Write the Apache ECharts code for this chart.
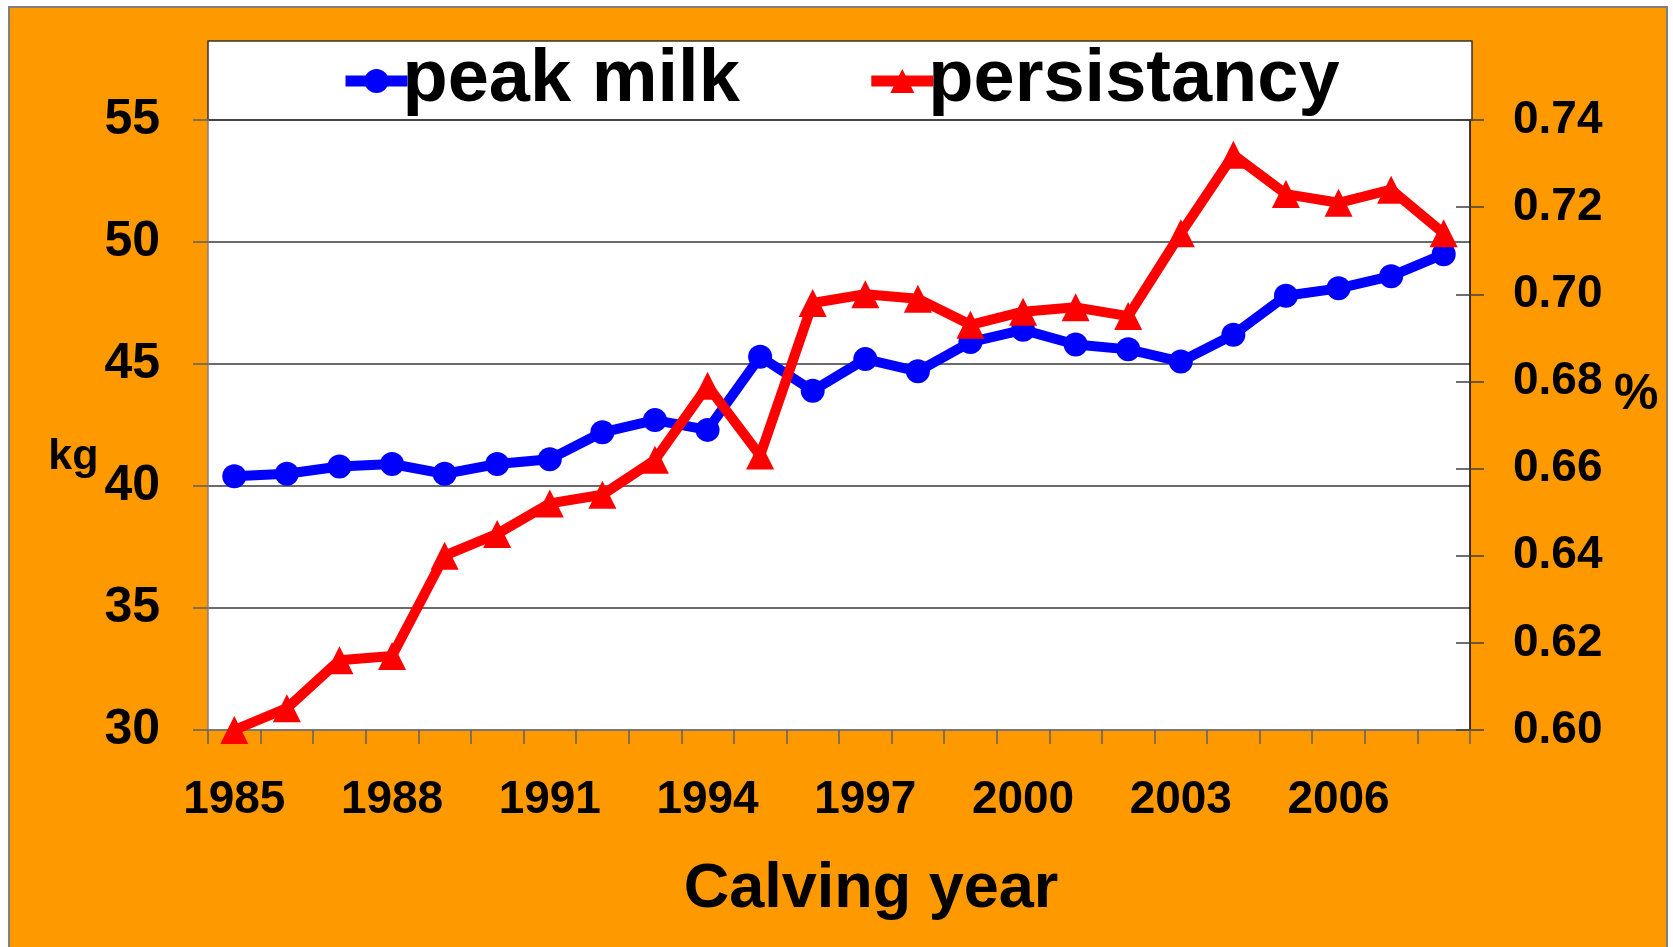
<!DOCTYPE html>
<html>
<head>
<meta charset="utf-8">
<script src="https://cdn.jsdelivr.net/npm/echarts@6/dist/echarts.min.js"></script>
<style>
  html, body { margin: 0; padding: 0; background: #fff; }
  #bg { position: absolute; left: 8px; top: 6px; width: 1660px; height: 945px;
        background: #ff9900; border: 2px solid #7f7f7f; border-bottom: none; box-sizing: border-box; }
  #chart { position: absolute; left: 0; top: 0; width: 1673px; height: 947px; }
</style>
</head>
<body>
<div id="bg"></div>
<div id="chart"></div>
<script>
  // calving years
  var years = ['1985', '1986', '1987', '1988', '1989', '1990', '1991', '1992', '1993', '1994', '1995', '1996',
               '1997', '1998', '1999', '2000', '2001', '2002', '2003', '2004', '2005', '2006', '2007', '2008'];
  // peak milk, kg (left axis)
  var peakMilk = [40.4, 40.5, 40.8, 40.9, 40.5, 40.9, 41.1, 42.2, 42.7, 42.3, 45.3, 43.9,
                  45.2, 44.7, 45.9, 46.4, 45.8, 45.6, 45.1, 46.2, 47.8, 48.1, 48.6, 49.5];
  // persistancy (right axis)
  var persistancy = [0.600, 0.605, 0.616, 0.617, 0.640, 0.645, 0.652, 0.654, 0.662, 0.679, 0.663, 0.698,
                     0.700, 0.699, 0.693, 0.696, 0.697, 0.695, 0.714, 0.732, 0.723, 0.721, 0.724, 0.714];

  var font = "'Liberation Sans', Arial, sans-serif";

  var chart = echarts.init(document.getElementById('chart'));
  chart.setOption({
    backgroundColor: 'transparent',
    animation: false,
    textStyle: { fontFamily: font },
    graphic: [{
      type: 'rect',
      z: 0,
      shape: { x: 208, y: 41, width: 1264, height: 79 },
      style: { fill: '#ffffff', stroke: '#333333', lineWidth: 1.5 }
    }],
    legend: {
      left: 340,
      top: 41,
      padding: 0,
      itemGap: 126,
      itemWidth: 62,
      itemHeight: 30,
      lineStyle: { width: 11 },
      textStyle: { fontSize: 74, fontWeight: 'bold', color: '#000', fontFamily: font, lineHeight: 80, padding: [0, 0, 0, -10] },
      data: ['peak milk', 'persistancy']
    },
    grid: {
      left: 208, right: 203, top: 120, bottom: 217,
      show: true, backgroundColor: '#ffffff', borderWidth: 0
    },
    xAxis: {
      type: 'category',
      data: years,
      boundaryGap: true,
      name: 'Calving year',
      nameLocation: 'middle',
      nameGap: 128,
      nameTextStyle: { fontSize: 63, fontWeight: 'bold', color: '#000', fontFamily: font, padding: [0, 0, 0, 64] },
      axisLine: { lineStyle: { color: '#808080', width: 1.5 } },
      axisTick: { show: true, interval: 0, length: 14, lineStyle: { color: '#606060', width: 1.5 } },
      axisLabel: { interval: 2, margin: 47, fontSize: 46, fontWeight: 'bold', color: '#000', fontFamily: font },
      splitLine: { show: false }
    },
    yAxis: [{
      type: 'value',
      position: 'left',
      min: 30, max: 55, interval: 5,
      name: 'kg',
      nameLocation: 'middle',
      nameRotate: 0,
      nameGap: 101,
      nameTextStyle: { fontSize: 43, fontWeight: 'bold', color: '#000', fontFamily: font,
                       verticalAlign: 'top', lineHeight: 64 },
      axisLine: { show: true, lineStyle: { color: '#808080', width: 1.5 } },
      axisTick: { show: true, length: 15, lineStyle: { color: '#606060', width: 1.5 } },
      axisLabel: { margin: 48, fontSize: 50, fontWeight: 'bold', color: '#000', fontFamily: font },
      splitLine: { show: true, lineStyle: { color: '#3a3a3a', width: 1.5 } }
    }, {
      type: 'value',
      position: 'right',
      min: 0.60, max: 0.74, interval: 0.02,
      name: '%',
      nameLocation: 'middle',
      nameRotate: 0,
      nameGap: 144,
      nameTextStyle: { fontSize: 50, fontWeight: 'bold', color: '#000', fontFamily: font,
                       verticalAlign: 'bottom', lineHeight: 60 },
      axisLine: { show: true, lineStyle: { color: '#000', width: 1.5 } },
      axisTick: { show: true, length: 14, lineStyle: { color: '#404040', width: 1.5 } },
      axisLabel: { margin: 43, fontSize: 46, fontWeight: 'bold', color: '#000', fontFamily: font,
                   formatter: function (v) { return v.toFixed(2); } },
      splitLine: { show: false }
    }, {
      // inner half of the crossing ticks on the right axis
      type: 'value',
      position: 'right',
      min: 0.60, max: 0.74, interval: 0.02,
      axisLine: { show: false },
      axisTick: { show: true, inside: true, length: 14, lineStyle: { color: '#404040', width: 1.5 } },
      axisLabel: { show: false },
      splitLine: { show: false }
    }],
    series: [{
      name: 'peak milk',
      type: 'line',
      yAxisIndex: 0,
      data: peakMilk,
      symbol: 'circle',
      symbolSize: 24,
      color: '#0000ff',
      lineStyle: { width: 10, color: '#0000ff' },
      itemStyle: { color: '#0000ff' }
    }, {
      name: 'persistancy',
      type: 'line',
      yAxisIndex: 1,
      data: persistancy,
      symbol: 'triangle',
      symbolSize: 28,
      color: '#ff0000',
      lineStyle: { width: 10, color: '#ff0000' },
      itemStyle: { color: '#ff0000' }
    }]
  });
</script>
</body>
</html>
